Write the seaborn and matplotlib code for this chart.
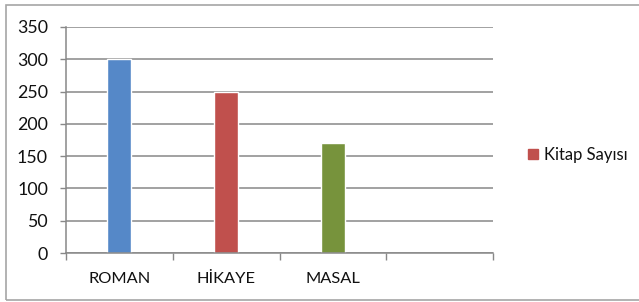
import matplotlib.pyplot as plt
import matplotlib.patches as mpatches
import seaborn as sns

# data
categories = ['ROMAN', 'HİKAYE', 'MASAL']
values = [300, 250, 170]
bar_colors = ['#5588C8', '#C0504D', '#77933C']
series_name = 'Kitap Sayısı'
y_ticks = [0, 50, 100, 150, 200, 250, 300, 350]

sns.set_style('white')
plt.rcParams['font.family'] = ['Lato', 'DejaVu Sans']

fig = plt.figure(figsize=(6.39, 3.02), dpi=100)
ax = fig.add_axes([66 / 639, 49 / 302, 427 / 639, 226 / 302])

sns.barplot(x=categories, y=values, hue=categories, palette=bar_colors,
            width=0.225, legend=False, saturation=1, ax=ax)

ax.set_xlim(-0.5, 3.5)
ax.set_ylim(0, 350)
ax.set_yticks(y_ticks)
ax.set_xticks(range(len(categories)), categories)
ax.set_xticks([-0.5, 0.5, 1.5, 2.5, 3.5], minor=True)

ax.tick_params(axis='x', which='major', length=0, pad=14, labelsize=11.8, labelcolor='#111111')
ax.tick_params(axis='x', which='minor', length=5, width=1, color='#888888', direction='out', bottom=True)
ax.tick_params(axis='y', length=4, width=1, color='#888888', pad=9, labelsize=12.8, labelcolor='#111111', left=True)

ax.yaxis.grid(True, color='#888888', linewidth=1.1)
ax.set_axisbelow(True)
for side in ['top', 'right']:
    ax.spines[side].set_visible(False)
for side in ['left', 'bottom']:
    ax.spines[side].set_color('#888888')
    ax.spines[side].set_linewidth(1.1)
ax.set_xlabel('')
ax.set_ylabel('')

handle = mpatches.Patch(color=bar_colors[1], label=series_name)
fig.legend(handles=[handle], loc='center left', bbox_to_anchor=(513 / 639, 1 - 155 / 302),
           frameon=False, fontsize=12, handlelength=0.6, handleheight=0.6, handletextpad=0.35,
           labelcolor='#111111')

# frame around the whole chart
fig.add_artist(mpatches.Rectangle((6 / 639, 2 / 302), 640 / 639, 295 / 302,
                                  transform=fig.transFigure, fill=False,
                                  edgecolor='#a6a6a6', linewidth=1.2))

fig.savefig('out.png', dpi=100)
